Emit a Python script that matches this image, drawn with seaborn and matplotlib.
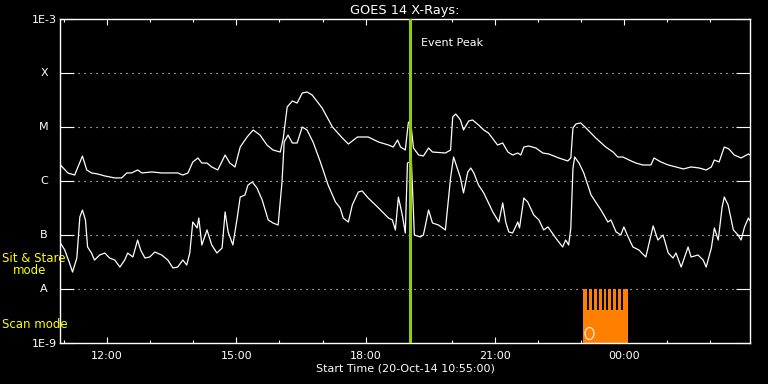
"""GOES 14 X-ray flux plot (20-Oct-14)"""
import matplotlib
matplotlib.use("Agg")
import matplotlib.pyplot as plt
import seaborn as sns
import numpy as np
import pandas as pd
from matplotlib.ticker import MultipleLocator, FuncFormatter, FixedLocator, NullLocator
from matplotlib.path import Path
from matplotlib.transforms import Affine2D

# time axis: hours since 20-Oct-14 00:00 (values > 24 are on 21-Oct)
start_hour = 10 + 55 / 60
end_hour = start_hour + 16
event_hour = 19.03

# 1-8 A channel
long_hours = [10.92, 11.09, 11.25, 11.43, 11.53, 11.64, 11.78, 11.95, 12.18, 12.34,
              12.46, 12.57, 12.71, 12.81, 13.04, 13.27, 13.46, 13.64, 13.76, 13.88,
              13.99, 14.11, 14.20, 14.32, 14.43, 14.57, 14.74, 14.85, 14.97, 15.09,
              15.25, 15.39, 15.55, 15.71, 15.85, 16.02, 16.09, 16.18, 16.30, 16.41,
              16.53, 16.64, 16.76, 16.99, 17.23, 17.46, 17.60, 17.81, 18.06, 18.30,
              18.53, 18.64, 18.74, 18.81, 18.92, 18.99, 19.04, 19.11, 19.23, 19.34,
              19.46, 19.55, 19.85, 19.97, 20.02, 20.09, 20.20, 20.27, 20.39, 20.48,
              20.62, 20.74, 20.85, 21.06, 21.18, 21.30, 21.41, 21.53, 21.60, 21.67,
              21.78, 21.95, 22.11, 22.25, 22.48, 22.69, 22.76, 22.81, 22.88, 22.99,
              23.11, 23.34, 23.57, 23.74, 23.85, 23.97, 24.11, 24.27, 24.43, 24.62,
              24.69, 24.85, 25.02, 25.20, 25.37, 25.55, 25.74, 25.90, 26.02, 26.09,
              26.20, 26.32, 26.43, 26.55, 26.71, 26.88, 26.95]
long_flux = [1.98e-6, 1.41e-6, 1.29e-6, 2.90e-6, 1.60e-6, 1.41e-6, 1.35e-6, 1.24e-6, 1.14e-6, 1.14e-6,
             1.41e-6, 1.41e-6, 1.60e-6, 1.41e-6, 1.47e-6, 1.41e-6, 1.41e-6, 1.41e-6, 1.29e-6, 1.41e-6,
             2.25e-6, 2.67e-6, 2.15e-6, 2.15e-6, 1.82e-6, 1.60e-6, 3.03e-6, 2.15e-6, 1.82e-6, 4.26e-6,
             6.53e-6, 8.8e-6, 7.1e-6, 4.64e-6, 3.75e-6, 3.44e-6, 6.25e-6, 2.35e-5, 3.03e-5, 2.78e-5,
             4.26e-5, 4.45e-5, 3.91e-5, 2.25e-5, 1.0e-5, 6.25e-6, 4.84e-6, 6.53e-6, 6.53e-6, 5.27e-6,
             4.64e-6, 4.26e-6, 5.74e-6, 4.26e-6, 3.75e-6, 1.19e-5, 1.35e-5, 4.08e-6, 3.03e-6, 2.90e-6,
             4.08e-6, 3.44e-6, 3.30e-6, 3.75e-6, 1.53e-5, 1.74e-5, 1.35e-5, 8.8e-6, 1.29e-5, 1.35e-5,
             1.09e-5, 8.8e-6, 7.74e-6, 4.64e-6, 5.05e-6, 3.44e-6, 3.03e-6, 3.30e-6, 3.03e-6, 4.26e-6,
             4.45e-6, 4.08e-6, 3.30e-6, 3.16e-6, 2.67e-6, 2.35e-6, 2.67e-6, 9.6e-6, 1.14e-5, 1.19e-5,
             9.6e-6, 6.25e-6, 4.26e-6, 3.44e-6, 2.78e-6, 2.78e-6, 2.45e-6, 2.15e-6, 1.98e-6, 1.98e-6,
             2.67e-6, 2.25e-6, 1.98e-6, 1.82e-6, 1.67e-6, 1.82e-6, 1.74e-6, 1.60e-6, 1.82e-6, 2.45e-6,
             2.25e-6, 4.26e-6, 3.91e-6, 3.03e-6, 2.67e-6, 3.16e-6, 2.90e-6]

# 0.5-4 A channel
short_hours = [10.92, 11.02, 11.13, 11.20, 11.30, 11.37, 11.43, 11.50, 11.55, 11.64,
               11.71, 11.83, 11.95, 12.06, 12.18, 12.30, 12.41, 12.48, 12.60, 12.71,
               12.78, 12.88, 12.99, 13.11, 13.27, 13.41, 13.53, 13.64, 13.76, 13.85,
               13.92, 13.99, 14.09, 14.13, 14.20, 14.32, 14.43, 14.55, 14.67, 14.74,
               14.81, 14.92, 15.02, 15.09, 15.20, 15.27, 15.37, 15.48, 15.60, 15.74,
               15.85, 15.97, 16.06, 16.11, 16.20, 16.30, 16.41, 16.53, 16.64, 16.78,
               16.95, 17.13, 17.30, 17.41, 17.48, 17.60, 17.69, 17.83, 17.92, 18.06,
               18.30, 18.53, 18.62, 18.69, 18.76, 18.85, 18.92, 18.97, 19.02, 19.06,
               19.13, 19.27, 19.34, 19.46, 19.55, 19.69, 19.85, 19.97, 20.04, 20.20,
               20.27, 20.37, 20.44, 20.51, 20.62, 20.74, 20.95, 21.09, 21.18, 21.25,
               21.32, 21.41, 21.53, 21.57, 21.67, 21.76, 21.90, 22.02, 22.13, 22.23,
               22.41, 22.57, 22.64, 22.71, 22.76, 22.81, 22.85, 22.95, 23.06, 23.23,
               23.46, 23.62, 23.69, 23.81, 23.92, 23.99, 24.09, 24.20, 24.34, 24.50,
               24.67, 24.78, 24.90, 25.02, 25.13, 25.20, 25.32, 25.48, 25.55, 25.71,
               25.83, 25.90, 26.02, 26.09, 26.18, 26.27, 26.32, 26.41, 26.53, 26.64,
               26.71, 26.79, 26.88, 26.95]
short_flux = [7.1e-8, 5.27e-8, 3.03e-8, 2.06e-8, 3.75e-8, 2.15e-7, 2.90e-7, 1.90e-7, 6.0e-8, 4.64e-8,
              3.44e-8, 4.26e-8, 4.64e-8, 3.75e-8, 3.44e-8, 2.55e-8, 3.44e-8, 4.64e-8, 3.91e-8, 8.07e-8,
              5.27e-8, 3.75e-8, 3.91e-8, 4.84e-8, 4.26e-8, 3.44e-8, 2.45e-8, 2.55e-8, 3.44e-8, 2.78e-8,
              4.64e-8, 1.74e-7, 1.35e-7, 2.06e-7, 6.53e-8, 1.24e-7, 6.53e-8, 4.64e-8, 5.74e-8, 2.67e-7,
              1.14e-7, 6.53e-8, 2.06e-7, 5.05e-7, 5.5e-7, 8.4e-7, 9.6e-7, 7.4e-7, 4.45e-7, 1.90e-7,
              1.67e-7, 1.53e-7, 9.6e-7, 5.27e-6, 7.1e-6, 5.05e-6, 5.05e-6, 1.0e-5, 8.8e-6, 5.27e-6,
              2.25e-6, 8.4e-7, 4.08e-7, 3.16e-7, 2.06e-7, 1.74e-7, 3.59e-7, 6.25e-7, 6.53e-7, 4.84e-7,
              3.16e-7, 2.06e-7, 1.90e-7, 1.24e-7, 5.05e-7, 2.35e-7, 1.09e-7, 2.15e-6, 2.25e-6, 2.5e-6,
              1.0e-7, 9.2e-8, 1.0e-7, 2.90e-7, 1.67e-7, 1.53e-7, 1.24e-7, 1.14e-6, 2.78e-6, 1.14e-6,
              6.0e-7, 1.47e-6, 1.74e-6, 1.41e-6, 8.4e-7, 6.0e-7, 2.67e-7, 1.74e-7, 3.91e-7, 1.74e-7,
              1.14e-7, 1.09e-7, 1.74e-7, 1.35e-7, 4.84e-7, 4.08e-7, 2.35e-7, 1.90e-7, 1.24e-7, 1.41e-7,
              8.8e-8, 6.0e-8, 8.07e-8, 6.53e-8, 1.35e-7, 1.74e-6, 2.78e-6, 2.15e-6, 1.41e-6, 5.5e-7,
              2.90e-7, 1.74e-7, 1.90e-7, 1.14e-7, 1.0e-7, 1.41e-7, 9.2e-8, 6.0e-8, 5.27e-8, 3.91e-8,
              1.47e-7, 8.07e-8, 1.0e-7, 4.64e-8, 3.75e-8, 4.64e-8, 2.55e-8, 6.0e-8, 3.91e-8, 4.26e-8,
              3.44e-8, 2.55e-8, 5.74e-8, 1.35e-7, 8.07e-8, 3.30e-7, 5.05e-7, 3.59e-7, 1.24e-7, 1.0e-7,
              8.07e-8, 1.41e-7, 2.06e-7, 1.67e-7]

# GOES class levels
class_levels = [1e-8, 1e-7, 1e-6, 1e-5, 1e-4]
class_labels = ['A', 'B', 'C', 'M', 'X']
decades = [1e-9, 1e-8, 1e-7, 1e-6, 1e-5, 1e-4, 1e-3]
decade_labels = ['1E-9', '', '', '', '', '', '1E-3']

# IRIS observation window (scan mode) and raster step gaps
obs_start, obs_end = 23.05, 24.09
raster_gap_hours = [23.16, 23.27, 23.38, 23.50, 23.61, 23.72, 23.83, 23.95]
raster_gap_bottom = 4.1e-9
obs_marker_hour, obs_marker_flux = 23.18, 1.53e-9

sns.set_theme(style="dark")
plt.rcParams['font.family'] = ['DejaVu Sans']

fig = plt.figure(figsize=(7.68, 3.84), dpi=100, facecolor='black')
ax = fig.add_axes([60.3 / 768, 1 - 343 / 384, (750 - 60.3) / 768, 324 / 384])
ax.set_facecolor('black')

df = pd.concat([
    pd.DataFrame({'hour': long_hours, 'flux': long_flux, 'channel': 'long'}),
    pd.DataFrame({'hour': short_hours, 'flux': short_flux, 'channel': 'short'}),
])
sns.lineplot(data=df, x='hour', y='flux', hue='channel', palette=['white', 'white'],
             estimator=None, sort=False, legend=False, lw=0.9, ax=ax, zorder=3)

ax.set_yscale('log')
ax.set_ylim(1e-9, 1e-3)
ax.set_xlim(start_hour, end_hour)

# dotted class levels
for lvl in class_levels:
    ax.axhline(lvl, color='white', lw=0.8, ls=(0, (1, 4.4)), zorder=1)

# observation window
ax.fill_between([obs_start, obs_end], 1e-9, 1e-8, color='#ff8000', lw=0, zorder=2)
ax.bar(raster_gap_hours, [1e-8 - raster_gap_bottom] * len(raster_gap_hours),
       bottom=raster_gap_bottom, width=0.046, color='black', lw=0, zorder=2.5)
ellipse = Path.unit_circle().transformed(Affine2D().scale(0.75, 1.0))
ax.plot([obs_marker_hour], [obs_marker_flux], marker=ellipse, ms=8.6, mfc='none',
        mec='white', mew=0.8, ls='none', zorder=5)

# event peak
ax.axvline(event_hour, color='#99cc00', lw=2.2, zorder=4)
ax.annotate('Event Peak', xy=(event_hour, 0.94), xycoords=('data', 'axes fraction'),
            xytext=(7.7, 0), textcoords='offset points', va='top', ha='left',
            color='white', fontsize=8)

# axes styling
for sp in ax.spines.values():
    sp.set_color('white')
    sp.set_linewidth(1.0)
    sp.set_visible(True)

ax.yaxis.set_major_locator(FixedLocator(decades))
ax.yaxis.set_minor_locator(NullLocator())
ax.set_yticklabels(decade_labels)
ax.tick_params(axis='y', which='major', direction='in', length=10, width=0.8,
               color='white', left=True, right=True, labelcolor='white',
               labelsize=8, pad=2.5)

ax.xaxis.set_major_locator(MultipleLocator(3))
ax.xaxis.set_minor_locator(MultipleLocator(1))
ax.xaxis.set_major_formatter(FuncFormatter(lambda h, pos: f"{int(round(h)) % 24:02d}:00"))
ax.tick_params(axis='x', which='major', direction='in', length=4.3, width=0.8,
               color='white', bottom=True, top=True, labelcolor='white',
               labelsize=8, pad=5.5)
ax.tick_params(axis='x', which='minor', direction='in', length=2.2, width=0.8,
               color='white', bottom=True, top=True)
ax.grid(False)

for lvl, lab in zip(class_levels, class_labels):
    ax.text(-0.0236, lvl, lab, transform=ax.get_yaxis_transform(), ha='center',
            va='center', color='white', fontsize=8)

ax.set_title('GOES 14 X-Rays:', color='white', fontsize=9.3, pad=3.6)
ax.set_xlabel('Start Time (20-Oct-14 10:55:00)', color='white', fontsize=8, labelpad=2)
ax.set_ylabel('')

fig.text(2 / 768, 1 - 259 / 384, 'Sit & Stare', color='#ffff00', fontsize=8.5,
         ha='left', va='center')
fig.text(13 / 768, 1 - 271 / 384, 'mode', color='#ffff00', fontsize=8.5,
         ha='left', va='center')
fig.text(2 / 768, 1 - 324 / 384, 'Scan mode', color='#ffff00', fontsize=8.5,
         ha='left', va='center')

fig.savefig('out.png', dpi=100, facecolor='black')
